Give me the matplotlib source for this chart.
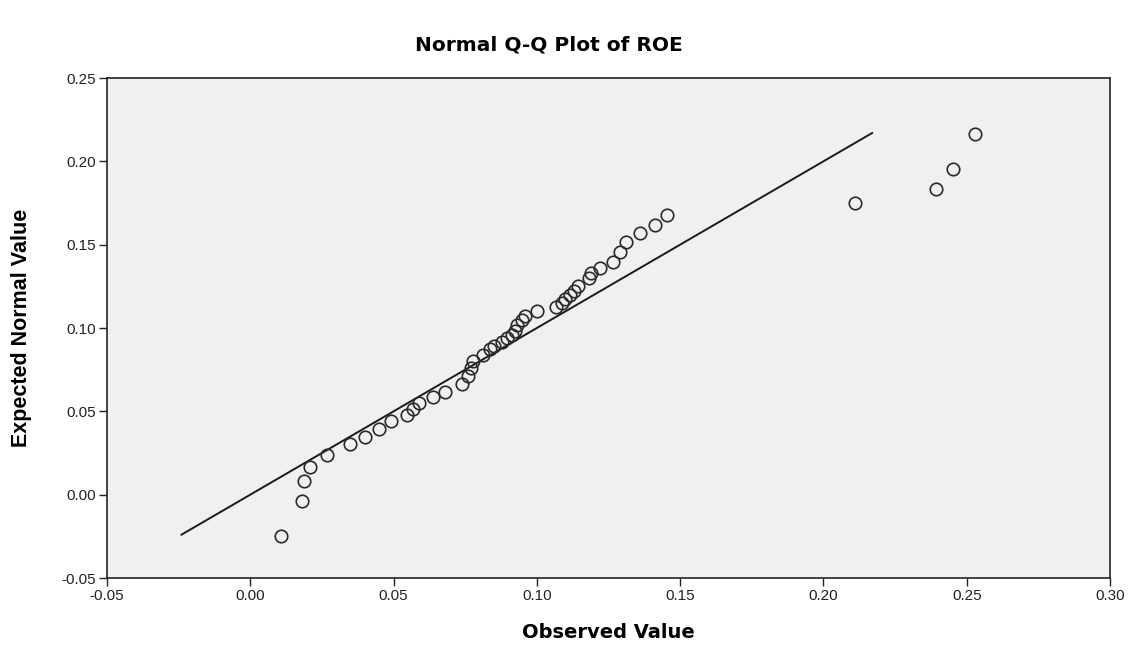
import numpy as np
import matplotlib
matplotlib.use('Agg')
import matplotlib.pyplot as plt
from matplotlib import font_manager

# observed ROE values (sorted) and their expected normal values
observed = [0.0107, 0.0180, 0.0187, 0.0208, 0.0268, 0.0348, 0.0400, 0.0449,
            0.0491, 0.0547, 0.0568, 0.0589, 0.0638, 0.0680, 0.0739, 0.0760,
            0.0770, 0.0777, 0.0812, 0.0837, 0.0850, 0.0878, 0.0896, 0.0913,
            0.0924, 0.0931, 0.0948, 0.0959, 0.1000, 0.1067, 0.1088, 0.1098,
            0.1116, 0.1130, 0.1144, 0.1182, 0.1189, 0.1220, 0.1266, 0.1290,
            0.1311, 0.1360, 0.1412, 0.1454, 0.2110, 0.2393, 0.2452, 0.2529]
expected = [-0.0246, -0.0036, 0.0084, 0.0168, 0.0240, 0.0306, 0.0348, 0.0396,
            0.0444, 0.0480, 0.0516, 0.0552, 0.0588, 0.0618, 0.0666, 0.0714,
            0.0762, 0.0804, 0.0840, 0.0876, 0.0894, 0.0918, 0.0942, 0.0960,
            0.0984, 0.1020, 0.1050, 0.1074, 0.1104, 0.1128, 0.1152, 0.1176,
            0.1200, 0.1224, 0.1254, 0.1302, 0.1332, 0.1362, 0.1398, 0.1458,
            0.1518, 0.1572, 0.1620, 0.1680, 0.1752, 0.1836, 0.1956, 0.2166]
ref_line = [-0.024, 0.217]
ticks = [-0.05, 0.00, 0.05, 0.10, 0.15, 0.20, 0.25, 0.30]
yticks = [-0.05, 0.00, 0.05, 0.10, 0.15, 0.20, 0.25]

# narrow font if available
names = set(f.name for f in font_manager.fontManager.ttflist)
narrow = 'Liberation Sans Narrow' if 'Liberation Sans Narrow' in names else 'Liberation Sans'

fig = plt.figure(figsize=(11.41, 6.5), dpi=100)
ax = fig.add_axes([107/1141, 72/650, 1003/1141, 500/650])
ax.set_facecolor('#f0f0f0')

ax.plot(ref_line, ref_line, color='#1a1a1a', lw=1.4, zorder=2)
ax.plot(observed, expected, 'o', mfc='none', mec='#2a2a2a', mew=1.2,
        ms=9, zorder=3)

ax.set_xlim(-0.05, 0.30)
ax.set_ylim(-0.05, 0.25)
ax.set_xticks(ticks)
ax.set_yticks(yticks)
ax.set_xticklabels(['%.2f' % t for t in ticks], fontsize=11, family=narrow)
ax.set_yticklabels(['%.2f' % t for t in yticks], fontsize=11, family=narrow)
ax.tick_params(direction='out', length=6, width=1, colors='#222222', pad=2)
for s in ax.spines.values():
    s.set_color('#222222')
    s.set_linewidth(1.2)

fig.text(608/1141, 1 - 633/650, 'Observed Value', ha='center', va='center',
         fontsize=14, fontweight='bold', family='DejaVu Sans')
fig.text(22/1141, 1 - 328/650, 'Expected Normal Value', ha='center',
         va='center', rotation=90, fontsize=15.5, fontweight='bold',
         family=narrow)
fig.text(549/1141, 1 - 45/650, 'Normal Q-Q Plot of ROE', ha='center',
         va='center', fontsize=14.5, fontweight='bold',
         family='DejaVu Sans')

fig.savefig('out.png', dpi=100)
